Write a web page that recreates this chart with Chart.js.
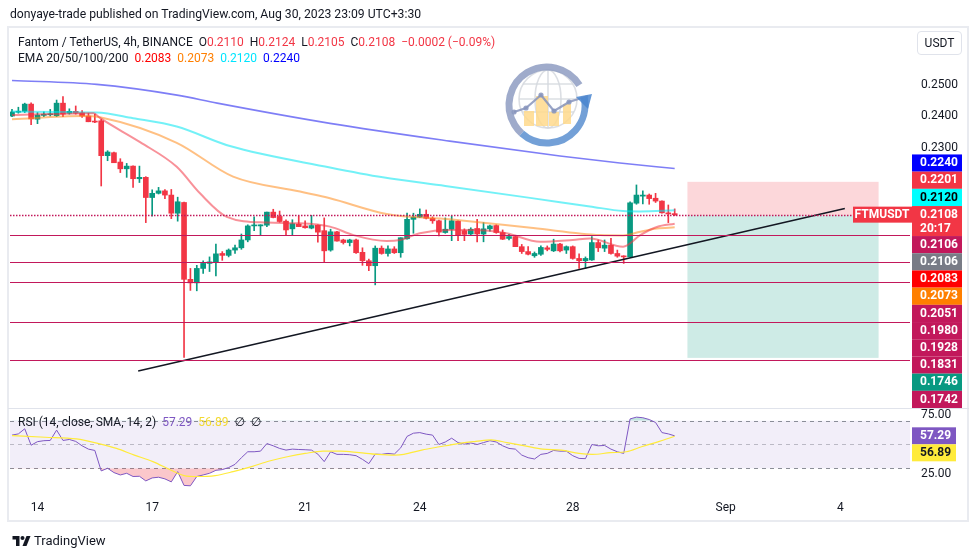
<!DOCTYPE html>
<html><head><meta charset="utf-8">
<script src="https://cdn.jsdelivr.net/npm/chart.js@4.4.0/dist/chart.umd.min.js"></script>
<style>
html,body{margin:0;padding:0;background:#fff;width:977px;height:557px;overflow:hidden;font-family:Roboto,"DejaVu Sans",sans-serif;color:#131722;}
#wrap{position:relative;width:977px;height:557px;}
canvas{position:absolute;left:0;top:0;}
.t{position:absolute;white-space:nowrap;}
</style></head><body><div id="wrap">
<canvas id="main" width="977" height="557"></canvas>
<canvas id="rsi" width="977" height="557"></canvas>
<div style="position:absolute;left:7px;top:26px;width:962px;height:496px;border:2px solid #E9EBF0;box-sizing:border-box;pointer-events:none"></div>
<div style="position:absolute;left:8px;top:408px;width:961px;height:1px;background:#E0E3EB"></div>
<div class="t" style="left:10px;top:7px;font-size:12.2px">donyaye-trade published on TradingView.com, Aug 30, 2023 23:09 UTC+3:30</div>
<div class="t" style="left:18px;top:35px;font-size:12px">Fantom / TetherUS, 4h, BINANCE&nbsp; O<span style="color:#F23645">0.2110</span>&nbsp; H<span style="color:#F23645">0.2124</span>&nbsp; L<span style="color:#F23645">0.2105</span>&nbsp; C<span style="color:#F23645">0.2108</span>&nbsp; <span style="color:#F23645">−0.0002 (−0.09%)</span></div>
<div class="t" style="left:18px;top:51px;font-size:12px">EMA 20/50/100/200&nbsp; <span style="color:#FF0000">0.2083</span>&nbsp; <span style="color:#FF7F00">0.2073</span>&nbsp; <span style="color:#00E5FF">0.2120</span>&nbsp; <span style="color:#0000FF">0.2240</span></div>
<div class="t" style="left:917px;top:31px;width:45px;height:24px;border:1px solid #E0E3EB;border-radius:4px;box-sizing:border-box;font-size:12px;line-height:22px;text-align:center">USDT</div>
<div class="t" style="left:18px;top:415px;font-size:12px">RSI (14, close, SMA, 14, 2)&nbsp; <span style="color:#7E57C2">57.29</span>&nbsp; <span style="color:#F2D930">56.89</span>&nbsp; ∅&nbsp; ∅</div>
<div class="t" style="left:12px;top:533px;font-size:13px;display:flex;align-items:center"><svg width="19" height="14" viewBox="0 0 36 28"><path d="M14 24H7V11H0V4h14v20z" fill="#131722"/><circle cx="20" cy="8" r="4" fill="#131722"/><path d="M28 4h8l-8 20H20L28 4z" fill="#131722"/></svg><span style="margin-left:3px">TradingView</span></div>
</div>
<script>
// ---------- DATA ----------
const opens  = [0.2400,0.2412,0.2415,0.2438,0.2390,0.2402,0.2404,0.2401,0.2441,0.2409,
                0.2415,0.2410,0.2400,0.2383,0.2385,0.2278,0.2287,0.2259,0.2239,0.2247,
                0.2210,0.2214,0.2156,0.2168,0.2175,0.2163,0.2112,0.2142,0.1936,0.1927,
                0.1964,0.1977,0.1980,0.2003,0.1998,0.2012,0.2018,0.2039,0.2077,0.2077,
                0.2079,0.2115,0.2103,0.2090,0.2069,0.2082,0.2077,0.2071,0.2079,0.2064,
                0.2012,0.2061,0.2039,0.2032,0.2039,0.2006,0.1984,0.1971,0.2017,0.2003,
                0.2015,0.2005,0.2042,0.2095,0.2101,0.2109,0.2098,0.2091,0.2059,0.2068,
                0.2090,0.2064,0.2055,0.2070,0.2055,0.2069,0.2078,0.2059,0.2043,0.2048,
                0.2021,0.2008,0.1997,0.2001,0.2018,0.2010,0.2028,0.2012,0.2021,0.1990,
                0.1984,0.1986,0.2032,0.2017,0.2025,0.2003,0.1996,0.1994,0.2140,0.2160,
                0.2163,0.2154,0.2146,0.2113,0.2110];
const highs  = [0.2421,0.2428,0.2441,0.2442,0.2411,0.2413,0.2421,0.2451,0.2462,0.2423,
                0.2432,0.2417,0.2409,0.2406,0.2390,0.2293,0.2289,0.2269,0.2255,0.2248,
                0.2247,0.2216,0.2178,0.2185,0.2179,0.2179,0.2157,0.2143,0.1964,0.1972,
                0.1984,0.1994,0.2028,0.2008,0.2015,0.2025,0.2055,0.2080,0.2102,0.2080,
                0.2115,0.2123,0.2118,0.2094,0.2094,0.2104,0.2091,0.2106,0.2080,0.2099,
                0.2068,0.2062,0.2041,0.2041,0.2041,0.2018,0.1988,0.2023,0.2023,0.2023,
                0.2021,0.2045,0.2112,0.2112,0.2124,0.2121,0.2102,0.2093,0.2099,0.2104,
                0.2091,0.2069,0.2072,0.2095,0.2086,0.2079,0.2080,0.2066,0.2054,0.2050,
                0.2027,0.2021,0.2007,0.2023,0.2023,0.2041,0.2030,0.2023,0.2023,0.2002,
                0.1994,0.2048,0.2039,0.2039,0.2043,0.2012,0.1997,0.2144,0.2192,0.2175,
                0.2166,0.2168,0.2147,0.2135,0.2124];
const lows   = [0.2398,0.2409,0.2411,0.2373,0.2376,0.2398,0.2400,0.2398,0.2398,0.2406,
                0.2406,0.2396,0.2382,0.2379,0.2189,0.2263,0.2257,0.2228,0.2214,0.2185,
                0.2199,0.2086,0.2104,0.2166,0.2153,0.2097,0.2090,0.1747,0.1908,0.1907,
                0.1951,0.1956,0.1945,0.1985,0.1994,0.2003,0.2014,0.2034,0.2064,0.2052,
                0.2075,0.2099,0.2087,0.2052,0.2052,0.2075,0.2071,0.2069,0.2033,0.1981,
                0.2009,0.2036,0.2028,0.2023,0.2003,0.1972,0.1958,0.1922,0.2001,0.1996,
                0.2003,0.1993,0.2041,0.2057,0.2100,0.2096,0.2084,0.2050,0.2057,0.2037,
                0.2037,0.2037,0.2052,0.2034,0.2034,0.2063,0.2057,0.2040,0.2039,0.2021,
                0.2003,0.1999,0.1993,0.1998,0.2010,0.2008,0.2007,0.2003,0.1988,0.1964,
                0.1964,0.1985,0.2008,0.2008,0.2001,0.1993,0.1977,0.1993,0.2137,0.2138,
                0.2137,0.2142,0.2112,0.2086,0.2105];
const closes = [0.2413,0.2415,0.2438,0.2391,0.2403,0.2406,0.2406,0.2441,0.2406,0.2415,
                0.2409,0.2400,0.2382,0.2381,0.2278,0.2289,0.2257,0.2239,0.2247,0.2210,
                0.2214,0.2156,0.2168,0.2175,0.2163,0.2112,0.2144,0.1936,0.1927,0.1964,
                0.1977,0.1981,0.2002,0.1998,0.2012,0.2018,0.2039,0.2077,0.2078,0.2080,
                0.2115,0.2100,0.2089,0.2066,0.2083,0.2075,0.2072,0.2078,0.2060,0.2010,
                0.2061,0.2036,0.2032,0.2039,0.2005,0.1984,0.1971,0.2017,0.2003,0.2015,
                0.2005,0.2045,0.2095,0.2101,0.2109,0.2098,0.2091,0.2060,0.2068,0.2091,
                0.2052,0.2054,0.2068,0.2055,0.2069,0.2077,0.2059,0.2041,0.2048,0.2021,
                0.2008,0.2001,0.2003,0.2019,0.2014,0.2028,0.2010,0.2021,0.1990,0.1984,
                0.1990,0.2032,0.2018,0.2025,0.2003,0.1996,0.1994,0.2141,0.2163,0.2163,
                0.2153,0.2146,0.2113,0.2110,0.2108];

const ema20Idx = [0,12.8,13.8,20.1,25.85,29.5,33.7,40,45.2,49.9,53.6,58.8,60.9,64,68.7,72.3,77.6,82.9,88,90.7,95.9,98.6,101.2,104];
const ema20Val = [0.2403,0.2409,0.2394,0.2319,0.2245,0.2168,0.2102,0.2086,0.2084,0.2075,0.2052,0.2036,0.2039,0.2057,0.2066,0.2066,0.2057,0.2034,0.2039,0.2043,0.2021,0.2052,0.2074,0.2083];
const ema50Idx = [0,11.1,13.8,25.85,34.7,45.2,49.9,58.8,68.7,81.8,92.3,95.9,98.6,101.2,104];
const ema50Val = [0.2390,0.2400,0.2396,0.2317,0.2216,0.2173,0.2154,0.2110,0.2095,0.2071,0.2052,0.2051,0.2061,0.2070,0.2073];
const ema100Idx = [0,13.3,19,25.85,34.2,49.9,58.2,68,81.3,90.7,95.9,98.6,104];
const ema100Val = [0.2414,0.2411,0.2393,0.2367,0.2307,0.2243,0.2214,0.2189,0.2155,0.2131,0.2118,0.2117,0.2120];
const ema200Idx = [0,13.3,25.9,32.2,49.9,68.7,86,95.4,104];
const ema200Val = [0.2515,0.2502,0.2467,0.2441,0.2377,0.2322,0.2277,0.2256,0.2240];

const rsiValues = [57.9,58.9,63.2,49.4,52.4,53.2,53.4,62.1,53.4,54.2,
                   52.6,48.9,46.1,45.0,27.8,30.0,26.4,24.4,25.8,23.1,
                   23.3,19.4,21.9,22.5,21.1,18.6,27.2,15.6,15.3,23.1,
                   24.4,25.8,28.3,28.9,30.6,33.3,38.9,43.9,43.9,44.4,
                   50.8,48.9,46.7,45.3,46.1,45.8,45.6,45.3,41.9,35.6,
                   43.9,41.7,41.7,41.4,40.6,37.5,33.9,41.9,41.7,42.5,
                   41.9,47.2,56.8,59.5,60.0,58.7,57.9,50.0,52.1,55.3,
                   51.6,50.3,51.3,50.0,51.6,53.2,52.1,48.9,46.7,46.1,
                   41.1,38.9,37.8,41.7,42.5,45.0,44.4,44.4,40.6,38.3,
                   38.1,50.0,48.9,49.2,46.1,43.9,42.5,71.5,73.0,72.5,
                   71.0,68.5,60.0,58.9,57.29];
const rsiSmaIdx = [0,5.2,10.1,13.6,16.4,19.2,22.1,24.9,27,29.1,31.9,34.7,37.6,40.4,43.2,46,48.8,51.6,54.5,57.3,60.1,61.5,64.3,67.1,70,72.8,75.2,77.7,80.5,83.3,86.2,89,91.1,93.9,96.4,98.8,101.6,104];
const rsiSmaVal = [57.4,56.1,54.7,50.8,46.7,41.1,35.6,28.6,23.9,23.1,23.9,27.2,31.4,36.1,39.7,42.5,44.4,44.4,43.1,41.7,41.1,41.7,45.3,48.1,50.8,52.6,53.9,51.6,48.9,46.1,45.3,42.5,41.7,43.1,43.9,48.1,52.6,56.89];

const hLevels = [0.2106,0.2051,0.1980,0.1928,0.1831,0.1742];
const positionLevels = [0.2201,0.2106,0.1746];   // stop, entry, target
const positionSpan = [106,136];                  // bar index range
const trendIdx = [19.8,130.7];
const trendVal = [0.1716,0.2125];
const dayTickIdx = [4,22,46,64,88,112,130];
const dayTickLabels = ['14','17','21','24','28','Sep','4'];
const priceTicks = [0.23,0.24,0.25];
const rsiTicks = [25,75];
const rsiBands = [70,50,30];
const axisLabelValues = [0.2240,0.2201,0.2120,0.2108,0.2106,0.2106,0.2083,0.2073,0.2051,0.1980,0.1928,0.1831,0.1746,0.1742];
const rsiLabelValues = [57.29,56.89];
const lastPrice = 0.2108;
const countdown = '20:17';

// ---------- STYLE ----------
const UP='#089981', DOWN='#F23645', LVL='#C2185B';
const axisLabelBg = ['#0000FF','#F23645','#00FFFF','#F23645',LVL,'#787B86','#FF0000','#FF7F00',LVL,LVL,LVL,LVL,'#089981',LVL];
const axisLabelFg = ['#fff','#fff','#000','#fff','#fff','#fff','#fff','#fff','#fff','#fff','#fff','#fff','#fff','#fff'];
const mainLabelIndex = 3;
const xMin=-0.314, xMax=140.93, priceMin=0.16367, priceMax=0.26947, rsiMin=8.4, rsiMax=79.83;
const LABEL_FONT='bold 12px Roboto, "DejaVu Sans", sans-serif';

Chart.defaults.font.family='Roboto, "DejaVu Sans", sans-serif';
Chart.defaults.color='#131722';

const idx = opens.map((_,i)=>i);
const candleColors = idx.map(i=>closes[i]>=opens[i]?UP:DOWN);
const pts = (xs,ys)=>xs.map((x,i)=>({x, y:ys[i]}));

function drawLogo(ctx,cx,cy){
  ctx.save();
  ctx.globalAlpha=0.85;
  ctx.strokeStyle='#D5D8DE'; ctx.lineWidth=1.6;
  ctx.beginPath(); ctx.arc(cx,cy-4,29,0,Math.PI*2); ctx.stroke();
  ctx.beginPath(); ctx.ellipse(cx,cy-4,13,29,0,0,Math.PI*2); ctx.stroke();
  ctx.beginPath(); ctx.moveTo(cx,cy-33); ctx.lineTo(cx,cy+25); ctx.stroke();
  [-15,0,13].forEach(dy=>{const hw=Math.sqrt(29*29-dy*dy);ctx.beginPath();ctx.moveTo(cx-hw,cy-4+dy);ctx.lineTo(cx+hw,cy-4+dy);ctx.stroke();});
  ctx.fillStyle='#FFD98C';
  [[-24,8,10,15],[-12,-7,12,30],[1,9,10,14],[15,1,8,20]].forEach(b=>ctx.fillRect(cx+b[0],cy+b[1],b[2],b[3]));
  ctx.strokeStyle='#8794BC'; ctx.lineWidth=2.2;
  const pl=[[-34,9],[-22,5],[-7,-8],[6,8],[21,-1],[40,-7]];
  ctx.beginPath(); pl.forEach((p,i)=>i?ctx.lineTo(cx+p[0],cy+p[1]):ctx.moveTo(cx+p[0],cy+p[1])); ctx.stroke();
  ctx.fillStyle='#8794BC'; pl.slice(0,5).forEach(p=>{ctx.beginPath();ctx.arc(cx+p[0],cy+p[1],2.6,0,Math.PI*2);ctx.fill();});
  ctx.lineWidth=7; ctx.strokeStyle='#8E9CC2';
  ctx.beginPath(); ctx.arc(cx-1,cy+2,38,-0.55,2.3,true); ctx.stroke();
  ctx.strokeStyle='#5B8FD0';
  ctx.beginPath(); ctx.arc(cx-1,cy+2,38,2.3,-0.2,true); ctx.stroke();
  ctx.fillStyle='#4A86D0';
  ctx.beginPath(); ctx.moveTo(cx+44,cy-9); ctx.lineTo(cx+28,cy-6); ctx.lineTo(cx+40,cy+6); ctx.closePath(); ctx.fill();
  ctx.restore();
}

function drawBox(ctx,x,y,w,h,bg,fg,lines){
  ctx.fillStyle=bg; ctx.fillRect(x,y,w,h);
  ctx.fillStyle=fg; ctx.font=LABEL_FONT;
  ctx.textAlign='left'; ctx.textBaseline='middle';
  lines.forEach((t,i)=>ctx.fillText(t,x+8,y+8.8+i*14.5));
}

function stackLabels(nat,mi,h,mainH){
  const top=new Array(nat.length);
  if(mi<0){let b=-1e9;for(let k=0;k<nat.length;k++){const c=Math.max(nat[k],b+h/2);top[k]=c-h/2;b=c+h/2;}return top;}
  const mt=nat[mi]-h/2;
  top[mi]=mt;
  let b=mt;
  for(let k=mi-1;k>=0;k--){const c=Math.min(nat[k],b-h/2);top[k]=c-h/2;b=c-h/2;}
  b=mt+mainH;
  for(let k=mi+1;k<nat.length;k++){const c=Math.max(nat[k],b+h/2);top[k]=c-h/2;b=c+h/2;}
  return top;
}

const mainPlugin={
  id:'mainDeco',
  beforeDatasetsDraw(chart){
    const {ctx,scales:{x,y}}=chart;
    drawLogo(ctx,548,103);
    ctx.save();
    const x0=x.getPixelForValue(positionSpan[0]), x1=x.getPixelForValue(positionSpan[1]);
    const ys=positionLevels.map(v=>y.getPixelForValue(v));
    ctx.fillStyle='rgba(242,54,69,0.2)'; ctx.fillRect(x0,ys[0],x1-x0,ys[1]-ys[0]);
    ctx.fillStyle='rgba(8,153,129,0.2)'; ctx.fillRect(x0,ys[1],x1-x0,ys[2]-ys[1]);
    ctx.restore();
  },
  afterDatasetsDraw(chart){
    const {ctx,chartArea:a,scales:{y}}=chart;
    ctx.save();
    ctx.beginPath(); ctx.rect(a.left,a.top,a.right-a.left,a.bottom-a.top); ctx.clip();
    hLevels.forEach((v,i)=>{
      const py=Math.round(y.getPixelForValue(v))+0.5;
      ctx.strokeStyle=LVL;
      ctx.lineWidth=i===0?1.6:1;
      ctx.setLineDash(i===0?[1.5,1.5]:[]);
      ctx.beginPath(); ctx.moveTo(a.left,py); ctx.lineTo(a.right,py); ctx.stroke();
    });
    ctx.restore();
    ctx.save();
    const pyl=y.getPixelForValue(lastPrice);
    ctx.fillStyle=DOWN; ctx.fillRect(a.right-57,pyl-8,59,16);
    ctx.fillStyle='#fff'; ctx.font=LABEL_FONT; ctx.textAlign='center'; ctx.textBaseline='middle';
    ctx.fillText('FTMUSDT',a.right-28,pyl+0.5);
    const nat=axisLabelValues.map(v=>y.getPixelForValue(v));
    const h=17.2, tops=stackLabels(nat,mainLabelIndex,h,30);
    axisLabelValues.forEach((v,k)=>{
      const lines=[v.toFixed(4)]; let hh=h;
      if(k===mainLabelIndex){lines.push(countdown); hh=30;}
      drawBox(ctx,a.right+2,tops[k],50,hh,axisLabelBg[k],axisLabelFg[k],lines);
    });
    ctx.restore();
  }
};

new Chart(document.getElementById('main'),{
  type:'bar',
  data:{datasets:[
    {type:'line',data:pts(trendIdx,trendVal),borderColor:'#131722',borderWidth:1.5,pointRadius:0,order:0},
    {type:'line',data:pts(ema20Idx,ema20Val),borderColor:'rgba(242,54,69,0.55)',borderWidth:2,pointRadius:0,cubicInterpolationMode:'monotone',order:1},
    {type:'line',data:pts(ema50Idx,ema50Val),borderColor:'rgba(255,140,30,0.55)',borderWidth:2,pointRadius:0,cubicInterpolationMode:'monotone',order:1},
    {type:'line',data:pts(ema100Idx,ema100Val),borderColor:'rgba(0,230,240,0.55)',borderWidth:2,pointRadius:0,cubicInterpolationMode:'monotone',order:1},
    {type:'line',data:pts(ema200Idx,ema200Val),borderColor:'rgba(40,40,240,0.6)',borderWidth:1.6,pointRadius:0,cubicInterpolationMode:'monotone',order:1},
    {data:idx.map(i=>({x:i,y:[opens[i],closes[i]]})),backgroundColor:candleColors,barThickness:5,minBarLength:1,grouped:false,order:2},
    {data:idx.map(i=>({x:i,y:[lows[i],highs[i]]})),backgroundColor:candleColors,barThickness:1,grouped:false,order:3}
  ]},
  options:{
    responsive:false,animation:false,devicePixelRatio:1,
    layout:{padding:{left:10,top:28,right:0,bottom:150}},
    plugins:{legend:{display:false},tooltip:{enabled:false}},
    scales:{
      x:{type:'linear',min:xMin,max:xMax,display:false,offset:false},
      y:{type:'logarithmic',position:'right',min:priceMin,max:priceMax,
         grid:{display:false,drawTicks:false},border:{display:false},
         ticks:{padding:11,color:'#131722',font:{size:12},callback:v=>Number(v).toFixed(4)},
         afterBuildTicks:s=>{s.ticks=priceTicks.map(v=>({value:v}));},
         afterFit:s=>{s.width=67;}}
    }
  },
  plugins:[mainPlugin]
});

const rsiPlugin={
  id:'rsiDeco',
  beforeDatasetsDraw(chart){
    const {ctx,chartArea:a,scales:{y}}=chart;
    ctx.save();
    const yt=y.getPixelForValue(rsiBands[0]), yb=y.getPixelForValue(rsiBands[2]);
    ctx.fillStyle='rgba(126,87,194,0.1)'; ctx.fillRect(a.left,yt,a.right-a.left,yb-yt);
    rsiBands.forEach((v,i)=>{
      const py=Math.round(y.getPixelForValue(v))+0.5;
      ctx.strokeStyle=i===1?'rgba(120,123,134,0.45)':'rgba(120,123,134,0.85)';
      ctx.lineWidth=1; ctx.setLineDash([4,4]);
      ctx.beginPath(); ctx.moveTo(a.left,py); ctx.lineTo(a.right,py); ctx.stroke();
    });
    ctx.restore();
  },
  afterDraw(chart){
    const {ctx,chartArea:a,scales:{y}}=chart;
    ctx.save();
    const nat=rsiLabelValues.map(v=>y.getPixelForValue(v));
    const tops=stackLabels(nat,-1,17,17);
    const bgs=['#7E57C2','#FFEB3B'], fgs=['#fff','#131722'];
    rsiLabelValues.forEach((v,k)=>drawBox(ctx,a.right+2,tops[k],44,17,bgs[k],fgs[k],[v.toFixed(2)]));
    ctx.restore();
  }
};

const rsiPts = idx.map(i=>({x:i,y:rsiValues[i]}));
new Chart(document.getElementById('rsi'),{
  type:'line',
  data:{datasets:[
    {data:rsiPts,borderColor:'#7E57C2',borderWidth:1,pointRadius:0,fill:{target:{value:30},above:'rgba(0,0,0,0)',below:'rgba(242,54,69,0.28)'},order:1},
    {data:rsiPts,borderColor:'rgba(0,0,0,0)',borderWidth:0,pointRadius:0,fill:{target:{value:70},above:'rgba(8,153,129,0.25)',below:'rgba(0,0,0,0)'},order:2},
    {data:pts(rsiSmaIdx,rsiSmaVal),borderColor:'#FFEB3B',borderWidth:1.2,pointRadius:0,cubicInterpolationMode:'monotone',order:0}
  ]},
  options:{
    responsive:false,animation:false,devicePixelRatio:1,
    layout:{padding:{left:10,top:409,right:0,bottom:35}},
    plugins:{legend:{display:false},tooltip:{enabled:false}},
    scales:{
      x:{type:'linear',min:xMin,max:xMax,offset:false,grid:{display:false,drawTicks:false},border:{display:false},
         ticks:{padding:7,color:'#131722',font:{size:12},maxRotation:0,autoSkip:false,
                callback:v=>{const k=dayTickIdx.indexOf(v);return k>=0?dayTickLabels[k]:'';}},
         afterBuildTicks:s=>{s.ticks=dayTickIdx.map(v=>({value:v}));},
         afterFit:s=>{s.height=28;}},
      y:{position:'right',min:rsiMin,max:rsiMax,grid:{display:false,drawTicks:false},border:{display:false},
         ticks:{padding:11,color:'#131722',font:{size:12},callback:v=>Number(v).toFixed(2)},
         afterBuildTicks:s=>{s.ticks=rsiTicks.map(v=>({value:v}));},
         afterFit:s=>{s.width=67;}}
    }
  },
  plugins:[rsiPlugin]
});
</script>
</body></html>
